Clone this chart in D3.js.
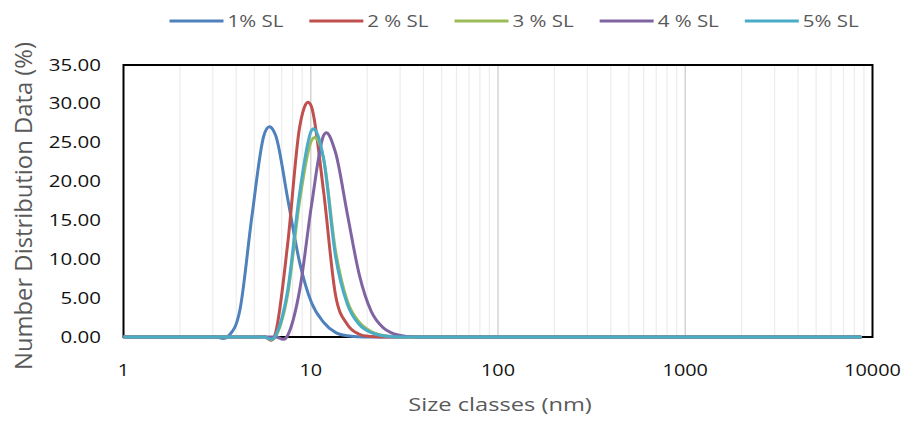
<!DOCTYPE html>
<html>
<head>
<meta charset="utf-8">
<script src="https://cdn.jsdelivr.net/npm/d3@7/dist/d3.min.js"></script>
<style>
  body { margin: 0; background: #fff; }
  text { font-family: "Open Sans", sans-serif; }
</style>
</head>
<body>
<div id="chart"></div>
<script>
// size classes (nm), Zetasizer bins
var sizeClasses = [0.8332, 0.9649, 1.117, 1.294, 1.499, 1.736, 2.010, 2.328, 2.696, 3.122,
  3.615, 4.187, 4.849, 5.615, 6.503, 7.531, 8.721, 10.10, 11.70, 13.54,
  15.69, 18.17, 21.04, 24.36, 28.21, 32.67, 37.84, 43.82, 50.75, 58.77,
  68.06, 78.82, 91.28, 105.7, 122.4, 141.8, 164.2, 190.1, 220.2, 255.0,
  295.3, 342.0, 396.1, 458.7, 531.2, 615.1, 712.4, 825.0, 955.4, 1106,
  1281, 1484, 1718, 1990, 2305, 2669, 3091, 3580, 4145, 4801,
  5560, 6439, 7456, 8635];

var sl1 = [0, 0, 0, 0, 0, 0, 0, 0, 0, 0,
  0.05, 3.5, 15.5, 25.9, 25.9, 17.8, 9.6, 4.4, 1.9, 0.6,
  0.15, 0.03, 0, 0, 0, 0, 0, 0, 0, 0,
  0, 0, 0, 0, 0, 0, 0, 0, 0, 0,
  0, 0, 0, 0, 0, 0, 0, 0, 0, 0,
  0, 0, 0, 0, 0, 0, 0, 0, 0, 0,
  0, 0, 0, 0];

var sl2 = [0, 0, 0, 0, 0, 0, 0, 0, 0, 0,
  0, 0, 0, 0.05, 0.6, 12.0, 27.0, 29.6, 18.8, 5.5,
  1.6, 0.35, 0.06, 0, 0, 0, 0, 0, 0, 0,
  0, 0, 0, 0, 0, 0, 0, 0, 0, 0,
  0, 0, 0, 0, 0, 0, 0, 0, 0, 0,
  0, 0, 0, 0, 0, 0, 0, 0, 0, 0,
  0, 0, 0, 0];

var sl3 = [0, 0, 0, 0, 0, 0, 0, 0, 0, 0,
  0, 0, 0, 0, 0.1, 5.5, 17.5, 25.3, 23.0, 11.2,
  4.6, 1.9, 0.7, 0.2, 0.05, 0, 0, 0, 0, 0,
  0, 0, 0, 0, 0, 0, 0, 0, 0, 0,
  0, 0, 0, 0, 0, 0, 0, 0, 0, 0,
  0, 0, 0, 0, 0, 0, 0, 0, 0, 0,
  0, 0, 0, 0];

var sl4 = [0, 0, 0, 0, 0, 0, 0, 0, 0, 0,
  0, 0, 0, 0, 0, 0.2, 6.0, 17.0, 25.9, 23.8,
  15.8, 8.0, 3.3, 1.2, 0.35, 0.08, 0, 0, 0, 0,
  0, 0, 0, 0, 0, 0, 0, 0, 0, 0,
  0, 0, 0, 0, 0, 0, 0, 0, 0, 0,
  0, 0, 0, 0, 0, 0, 0, 0, 0, 0,
  0, 0, 0, 0];

var sl5 = [0, 0, 0, 0, 0, 0, 0, 0, 0, 0,
  0, 0, 0, 0, 0.2, 6.0, 18.5, 26.6, 23.0, 10.5,
  4.2, 1.6, 0.55, 0.15, 0.03, 0, 0, 0, 0, 0,
  0, 0, 0, 0, 0, 0, 0, 0, 0, 0,
  0, 0, 0, 0, 0, 0, 0, 0, 0, 0,
  0, 0, 0, 0, 0, 0, 0, 0, 0, 0,
  0, 0, 0, 0];

var seriesNames = ["1% SL", "2 % SL", "3 % SL", "4 % SL", "5% SL"];
var seriesValues = [sl1, sl2, sl3, sl4, sl5];
var seriesColors = ["#4F81BD", "#C0504D", "#9BBB59", "#8064A2", "#4BACC6"];

var yTicks = [0, 5, 10, 15, 20, 25, 30, 35];
var xTicks = [1, 10, 100, 1000, 10000];

var width = 905,
    height = 421,
    SX = 1.28; // text in the picture is wider than tall

var plot = {left: 123.5, right: 872.5, top: 65, bottom: 337};

var x = d3.scaleLog().domain([1, 10000]).range([plot.left, plot.right]);
var y = d3.scaleLinear().domain([0, 35]).range([plot.bottom, plot.top]);

var svg = d3.select("#chart").append("svg")
    .attr("width", width)
    .attr("height", height);

function label(g, px, py, str, anchor, size, color) {
  return g.append("text")
      .attr("transform", "translate(" + px + "," + py + ") scale(" + SX + ",1)")
      .attr("text-anchor", anchor)
      .attr("font-size", size)
      .attr("fill", color)
      .text(str);
}

// vertical grid lines on every log tick
var grid = svg.append("g");
x.ticks().filter(function(t){ return t > 1 && t < 10000; }).forEach(function(t){
  var major = xTicks.indexOf(t) >= 0;
  grid.append("line")
      .attr("x1", x(t)).attr("x2", x(t))
      .attr("y1", plot.top).attr("y2", plot.bottom)
      .attr("stroke", major ? "#d4d4d4" : "#ececec")
      .attr("stroke-width", major ? 1.5 : 1.2);
});

// plot border
svg.append("rect")
    .attr("x", plot.left).attr("y", plot.top)
    .attr("width", plot.right - plot.left)
    .attr("height", plot.bottom - plot.top)
    .attr("fill", "none")
    .attr("stroke", "#000")
    .attr("stroke-width", 2);

// tick labels
var axisG = svg.append("g");
yTicks.forEach(function(t){
  label(axisG, 101, y(t) + 5.5, t.toFixed(2), "end", 16, "#111");
});
xTicks.forEach(function(t){
  label(axisG, x(t), 376, String(t), "middle", 15.5, "#111");
});

// axis titles
label(svg, 500, 411, "Size classes (nm)", "middle", 18.5, "#595959");
svg.append("text")
    .attr("transform", "translate(32,206) scale(" + SX + ",1) rotate(-90)")
    .attr("text-anchor", "middle")
    .attr("font-size", 18.5)
    .attr("fill", "#595959")
    .attr("textLength", 328)
    .attr("lengthAdjust", "spacingAndGlyphs")
    .text("Number Distribution Data (%)");

// series
svg.append("clipPath").attr("id", "clip")
  .append("rect")
    .attr("x", plot.left).attr("y", 0)
    .attr("width", plot.right - plot.left)
    .attr("height", height);

var line = d3.line()
    .x(function(d){ return x(d[0]); })
    .y(function(d){ return y(d[1]); })
    .curve(d3.curveCardinal.tension(0));

var lines = svg.append("g").attr("clip-path", "url(#clip)");
seriesValues.forEach(function(vals, i){
  var pts = sizeClasses.map(function(s, j){ return [s, vals[j]]; });
  lines.append("path")
      .attr("d", line(pts))
      .attr("fill", "none")
      .attr("stroke", seriesColors[i])
      .attr("stroke-width", 3)
      .attr("stroke-linejoin", "round")
      .attr("stroke-linecap", "round");
});

// legend
var legend = svg.append("g");
var lx = 169.5, ly = 21;
seriesNames.forEach(function(name, i){
  legend.append("line")
      .attr("x1", lx).attr("x2", lx + 54)
      .attr("y1", ly).attr("y2", ly)
      .attr("stroke", seriesColors[i])
      .attr("stroke-width", 3);
  var t = label(legend, lx + 58, ly + 6, name, "start", 16, "#595959");
  lx += 58 + t.node().getComputedTextLength() * SX + 26;
});
</script>
</body>
</html>
